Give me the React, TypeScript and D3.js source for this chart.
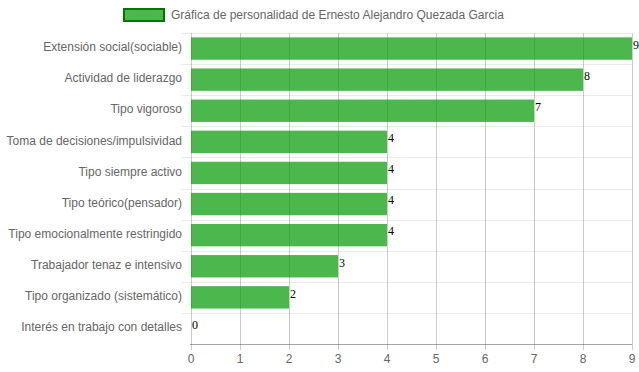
import React, { useEffect, useRef } from "react";
import * as d3 from "d3";

const categories = [
  "Extensión social(sociable)",
  "Actividad de liderazgo",
  "Tipo vigoroso",
  "Toma de decisiones/impulsividad",
  "Tipo siempre activo",
  "Tipo teórico(pensador)",
  "Tipo emocionalmente restringido",
  "Trabajador tenaz e intensivo",
  "Tipo organizado (sistemático)",
  "Interés en trabajo con detalles",
];
const values = [9, 8, 7, 4, 4, 4, 4, 3, 2, 0];
const xTicks = [0, 1, 2, 3, 4, 5, 6, 7, 8, 9];
const seriesName = "Gráfica de personalidad de Ernesto Alejandro Quezada Garcia";

const App = () => {
  const svgRef = useRef<SVGSVGElement>(null);

  useEffect(() => {
    const svg = d3.select(svgRef.current);
    svg.selectAll("*").remove();

    const width = 639;
    const height = 372;
    const plot = { left: 191, right: 632, top: 33, bottom: 344 };
    const font = "'Liberation Sans', Arial, sans-serif";

    const x = d3.scaleLinear().domain([0, 9]).range([plot.left, plot.right]);
    const y = d3
      .scaleBand()
      .domain(categories)
      .range([plot.top, plot.bottom]);
    const inner = y.bandwidth() * 0.72;

    svg.attr("width", width).attr("height", height);

    // horizontal grid (band boundaries)
    const bounds = d3.range(categories.length + 1).map((i) => plot.top + i * y.bandwidth());
    svg
      .append("g")
      .selectAll("line")
      .data(bounds.slice(0, -1))
      .enter()
      .append("line")
      .attr("x1", 181)
      .attr("x2", plot.right)
      .attr("y1", (d) => Math.round(d) + 0.5)
      .attr("y2", (d) => Math.round(d) + 0.5)
      .attr("stroke", "rgba(0,0,0,0.08)");

    // vertical grid
    svg
      .append("g")
      .selectAll("line")
      .data(xTicks)
      .enter()
      .append("line")
      .attr("x1", (d) => Math.round(x(d)) + 0.5)
      .attr("x2", (d) => Math.round(x(d)) + 0.5)
      .attr("y1", plot.top)
      .attr("y2", plot.bottom + 6)
      .attr("stroke", "rgba(0,0,0,0.2)");

    // x axis line
    svg
      .append("line")
      .attr("x1", 190)
      .attr("x2", plot.right)
      .attr("y1", plot.bottom + 0.5)
      .attr("y2", plot.bottom + 0.5)
      .attr("stroke", "rgba(0,0,0,0.35)");

    // bars
    svg
      .append("g")
      .selectAll("rect")
      .data(values)
      .enter()
      .append("rect")
      .attr("x", x(0))
      .attr("y", (d, i) => y(categories[i])! + (y.bandwidth() - inner) / 2)
      .attr("width", (d) => x(d) - x(0))
      .attr("height", inner)
      .attr("fill", "rgba(0,153,0,0.7)");

    // value labels
    svg
      .append("g")
      .selectAll("text")
      .data(values)
      .enter()
      .append("text")
      .attr("x", (d) => x(d) + 1)
      .attr("y", (d, i) => y(categories[i])! + (y.bandwidth() - inner) / 2 + 11.5)
      .attr("font-family", "'Liberation Serif', 'Times New Roman', serif")
      .attr("font-size", 12)
      .attr("fill", "#000")
      .text((d) => d);

    // y labels
    svg
      .append("g")
      .selectAll("text")
      .data(categories)
      .enter()
      .append("text")
      .attr("x", 182)
      .attr("y", (d) => y(d)! + y.bandwidth() / 2 - 1.5)
      .attr("dy", "0.35em")
      .attr("text-anchor", "end")
      .attr("font-family", font)
      .attr("font-size", 12)
      .attr("fill", "#666")
      .text((d) => d);

    // x tick labels
    svg
      .append("g")
      .selectAll("text")
      .data(xTicks)
      .enter()
      .append("text")
      .attr("x", (d) => x(d))
      .attr("y", 359)
      .attr("dy", "0.35em")
      .attr("text-anchor", "middle")
      .attr("font-family", font)
      .attr("font-size", 12)
      .attr("fill", "#666")
      .text((d) => d);

    // legend
    const legend = svg.append("g");
    legend
      .append("rect")
      .attr("x", 124)
      .attr("y", 9)
      .attr("width", 40)
      .attr("height", 12)
      .attr("fill", "rgba(0,153,0,0.7)")
      .attr("stroke", "rgb(0,120,0)")
      .attr("stroke-width", 2);
    legend
      .append("text")
      .attr("x", 171)
      .attr("y", 15)
      .attr("dy", "0.35em")
      .attr("font-family", font)
      .attr("font-size", 12)
      .attr("fill", "#666")
      .text(seriesName);
  }, []);

  return (
    <svg
      ref={svgRef}
      style={{ position: "absolute", left: 0, top: 0, background: "#fff" }}
    ></svg>
  );
};

export default App;
